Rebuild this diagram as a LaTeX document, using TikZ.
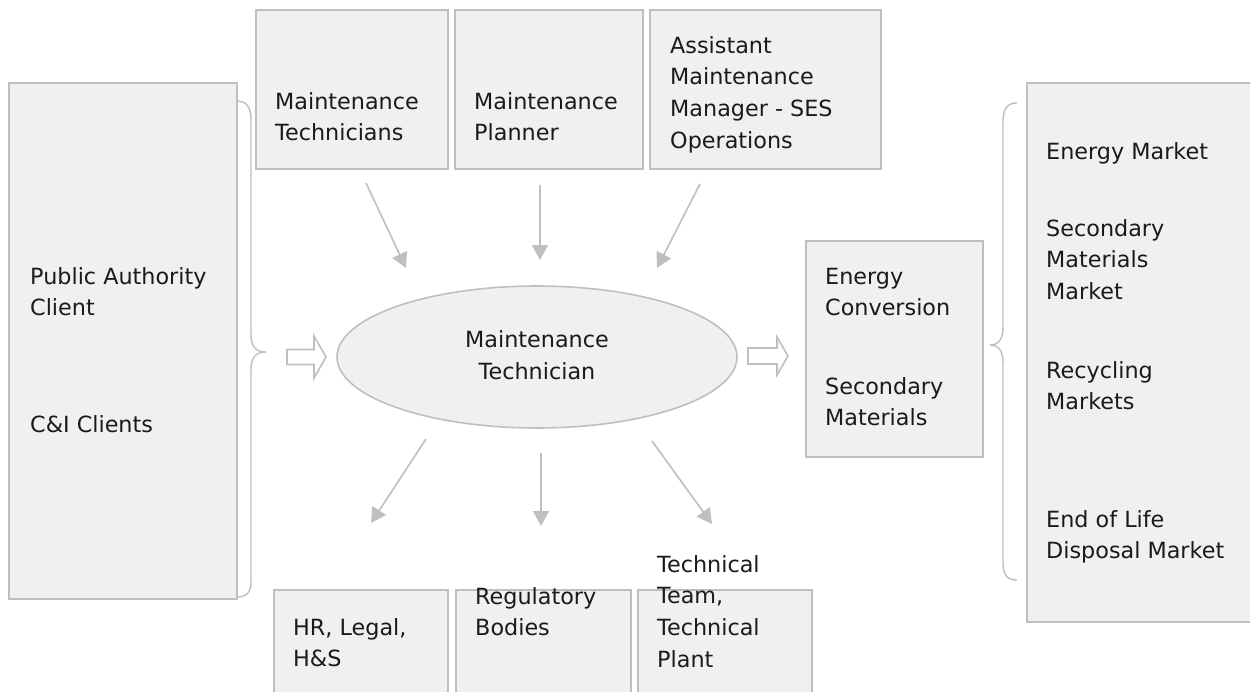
\documentclass[tikz,border=0pt]{standalone}
\usepackage{fontspec}
\setmainfont{DejaVu Sans}
\usetikzlibrary{arrows.meta,shapes.geometric}
\definecolor{boxfill}{HTML}{F0F0F0}
\definecolor{edge}{HTML}{BFBFBF}
\definecolor{ink}{HTML}{1A1A1A}
\begin{document}
\begin{tikzpicture}[x=1pt,y=-1pt,
  box/.style={draw=edge,line width=1.6pt,fill=boxfill,inner sep=0pt,anchor=north west},
  txt/.style={font=\fontsize{22.3}{31.8}\selectfont,text=ink,align=left,inner sep=0pt,anchor=north west},
  conn/.style={draw=edge,line width=1.6pt,-{Triangle[length=15pt,width=16pt]}},
  brace/.style={draw=edge,line width=1.4pt},
  hollow/.style={draw=edge,line width=1.6pt,fill=white,line join=miter}]
\useasboundingbox (0,0) rectangle (1250,691);

% boxes
\node[box,minimum width=228pt,minimum height=516pt] (L) at (8,82) {};
\node[box,minimum width=192pt,minimum height=159pt] (T1) at (255,9) {};
\node[box,minimum width=188pt,minimum height=159pt] (T2) at (454,9) {};
\node[box,minimum width=231pt,minimum height=159pt] (T3) at (649,9) {};
\node[box,minimum width=177pt,minimum height=216pt] (M) at (805,240) {};
\node[box,minimum width=240pt,minimum height=539pt] (R) at (1026,82) {};
\node[box,minimum width=174pt,minimum height=130pt] (B1) at (273,589) {};
\node[box,minimum width=175pt,minimum height=130pt] (B2) at (455,589) {};
\node[box,minimum width=174pt,minimum height=130pt] (B3) at (637,589) {};

% centre ellipse
\node[draw=edge,line width=1.6pt,fill=boxfill,ellipse,minimum width=400pt,minimum height=142pt,
      inner sep=0pt,font=\fontsize{22.3}{32}\selectfont,text=ink,align=center] (E) at (537,357)
      {\strut Maintenance\\\strut Technician};

% texts
\node[txt] (tL1) at (30,261.7) {\strut Public Authority\\\strut Client};
\node[txt] (tL2) at (30,409.7) {\strut C\&I Clients};
\node[txt] (tT1) at (275,86.7) {\strut Maintenance\\\strut Technicians};
\node[txt] (tT2) at (474,86.7) {\strut Maintenance\\\strut Planner};
\node[txt] (tT3) at (670,30.7) {\strut Assistant\\\strut Maintenance\\\strut Manager - SES\\\strut Operations};
\node[txt] (tM1) at (825,261.7) {\strut Energy\\\strut Conversion};
\node[txt] (tM2) at (825,371.7) {\strut Secondary\\\strut Materials};
\node[txt] (tR1) at (1046,136.7) {\strut Energy Market};
\node[txt] (tR2) at (1046,213.7) {\strut Secondary\\\strut Materials\\\strut Market};
\node[txt] (tR3) at (1046,355.7) {\strut Recycling\\\strut Markets};
\node[txt] (tR4) at (1046,504.7) {\strut End of Life\\\strut Disposal Market};
\node[txt] (tB1) at (293,612.7) {\strut HR, Legal,\\\strut H\&S};
\node[txt] (tB2) at (475,581.7) {\strut Regulatory\\\strut Bodies};
\node[txt] (tB3) at (657,549.7) {\strut Technical\\\strut Team,\\\strut Technical\\\strut Plant};

% arrow end points
\coordinate (a1s) at (366,183); \coordinate (a1e) at (406,268);
\coordinate (a2s) at (540,185); \coordinate (a2e) at (540,260);
\coordinate (a3s) at (700,184); \coordinate (a3e) at (657,268);
\coordinate (d1s) at (426,439); \coordinate (d1e) at (371,523);
\coordinate (d2s) at (541,453); \coordinate (d2e) at (541,526);
\coordinate (d3s) at (652,441); \coordinate (d3e) at (712,524);

\draw[conn] (a1s) -- (a1e);
\draw[conn] (a2s) -- (a2e);
\draw[conn] (a3s) -- (a3e);
\draw[conn] (d1s) -- (d1e);
\draw[conn] (d2s) -- (d2e);
\draw[conn] (d3s) -- (d3e);

% braces
\draw[brace] (236,101) .. controls (246,101) and (251,106) .. (251,120) -- (251,334)
  .. controls (251,347) and (256,352) .. (266,352)
  .. controls (256,352) and (251,357) .. (251,370) -- (251,582)
  .. controls (251,593) and (246,597) .. (236,597);
\draw[brace] (1017,103) .. controls (1008,103) and (1003,108) .. (1003,121) -- (1003,327)
  .. controls (1003,340) and (998,345) .. (990,345)
  .. controls (998,345) and (1003,350) .. (1003,363) -- (1003,563)
  .. controls (1003,576) and (1008,580) .. (1017,580);

% hollow block arrows
\draw[hollow] (287,349.5) -- (314,349.5) -- (314,336) -- (326,357) -- (314,378) -- (314,364.5) -- (287,364.5) -- cycle;
\draw[hollow] (748,348) -- (777,348) -- (777,337) -- (788,356) -- (777,375) -- (777,364) -- (748,364) -- cycle;
\end{tikzpicture}
\end{document}
